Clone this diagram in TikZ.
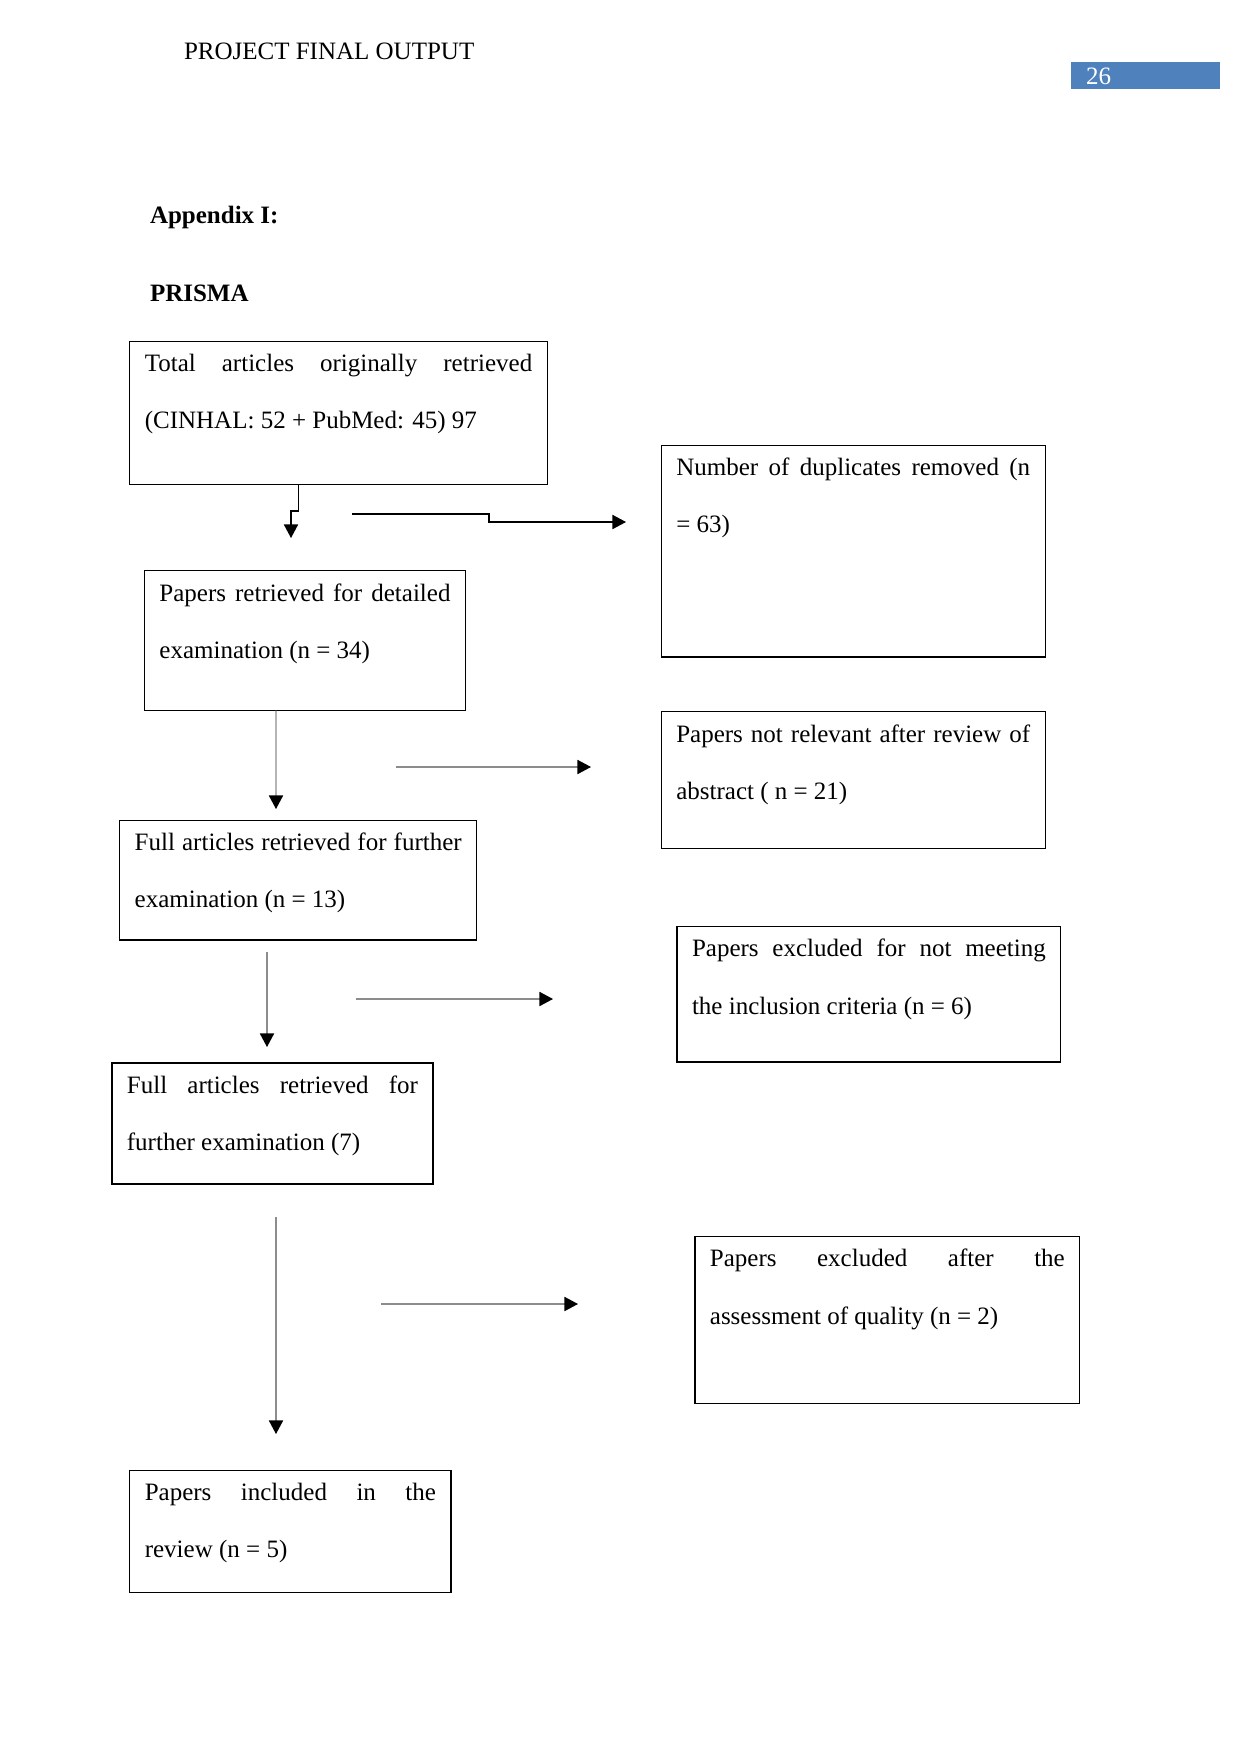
\documentclass[tikz,border=0pt]{standalone}
\usepackage{fontspec}
\setmainfont{Liberation Serif}
\usetikzlibrary{arrows.meta,calc}
\definecolor{headblue}{HTML}{4F81BD}
\tikzset{
  boxstyle/.style={draw=black, line width=0.6pt, rectangle, inner sep=0pt, outer sep=0pt},
  txt/.style={inner sep=0pt, outer sep=0pt, font=\fontsize{12}{14}\selectfont},
  darrow/.style={line width=0.55pt, draw=black, -{Triangle[length=6.5pt,width=6.8pt]}},
  garrow/.style={line width=0.55pt, draw=black!45, -{Triangle[length=6.5pt,width=6.8pt,color=black]}},
}
\newcommand\flowbox[7]{%
  \node[boxstyle, anchor=north west, minimum width={(#4-#2)*0.48pt}, minimum height={(#5-#3)*0.48pt}] (#1) at (#2,#3) {};
  \pgfmathsetlengthmacro\jw{(#4-#2-30)*0.48pt}%
  \node[txt, anchor=base west] (#1-l1) at ([xshift=7.2pt,yshift=-14.6pt]#1.north west) {\makebox[\jw][s]{#6}};
  \node[txt, anchor=base west] (#1-l2) at ([xshift=7.2pt,yshift=-42pt]#1.north west) {#7};
}
\begin{document}
\begin{tikzpicture}[x=0.48pt,y=-0.48pt]
\useasboundingbox (0,0) rectangle (1241,1754);
% header
\node[txt, anchor=base west] (hdr) at (184,59) {PROJECT FINAL OUTPUT};
\node[fill=headblue, draw=none, anchor=north west, minimum width={149*0.48pt}, minimum height={27*0.48pt}, inner sep=0pt] (pg) at (1071,61.5) {};
\node[txt, anchor=base west, text=white] (pgnum) at (1086,84) {26};
\node[txt, anchor=base west, font=\fontsize{12}{14}\selectfont\bfseries] (app) at (150,223) {Appendix I:};
\node[txt, anchor=base west, font=\fontsize{12}{14}\selectfont\bfseries] (prisma) at (150,301) {PRISMA};
% boxes
\flowbox{b1}{129.8}{341.3}{547.2}{484.5}{Total articles originally retrieved}{(CINHAL: 52 + PubMed: 45) 97}
\flowbox{b2}{661.3}{445.4}{1045.2}{656.9}{Number of duplicates removed (n}{= 63)}
\flowbox{b3}{144.4}{570.7}{465.5}{710.6}{Papers retrieved for detailed}{examination (n = 34)}
\flowbox{b4}{661.3}{711.7}{1045.2}{848.2}{Papers not relevant after review of}{abstract ( n = 21)}
\flowbox{b5}{119.7}{820.2}{476.7}{940}{Full articles retrieved for further}{examination (n = 13)}
\flowbox{b6}{677}{926.5}{1060.8}{1062}{Papers excluded for not meeting}{the inclusion criteria (n = 6)}
\flowbox{b7}{111.9}{1063}{433}{1184}{Full articles retrieved for}{further examination (7)}
\flowbox{b8}{694.9}{1236.5}{1079.8}{1403.2}{Papers excluded after the}{assessment of quality (n = 2)}
\flowbox{b9}{129.8}{1470.4}{451}{1592.3}{Papers included in the}{review (n = 5)}
% free ends of connectors
\coordinate (a1e) at (291,538);
\coordinate (a2s) at (352,514);
\coordinate (a2e) at (626,522);
\coordinate (a3e) at (276,809);
\coordinate (a4s) at (396,767);
\coordinate (a4e) at (591,767);
\coordinate (a5s) at (267,952);
\coordinate (a5e) at (267,1047);
\coordinate (a6s) at (356,999);
\coordinate (a6e) at (553,999);
\coordinate (a7s) at (276,1217);
\coordinate (a7e) at (276,1434);
\coordinate (a8s) at (381,1304);
\coordinate (a8e) at (578,1304);
% connectors
\draw[darrow] ([xshift=-19.4pt]b1.south) -- ++(0,26.5) -| (a1e);
\draw[darrow] (a2s) -- (489,514) |- (a2e);
\draw[garrow] ([xshift=-13.9pt]b3.south) -- (a3e);
\draw[garrow] (a4s) -- (a4e);
\draw[garrow] (a5s) -- (a5e);
\draw[garrow] (a6s) -- (a6e);
\draw[garrow] (a7s) -- (a7e);
\draw[garrow] (a8s) -- (a8e);
\end{tikzpicture}
\end{document}
